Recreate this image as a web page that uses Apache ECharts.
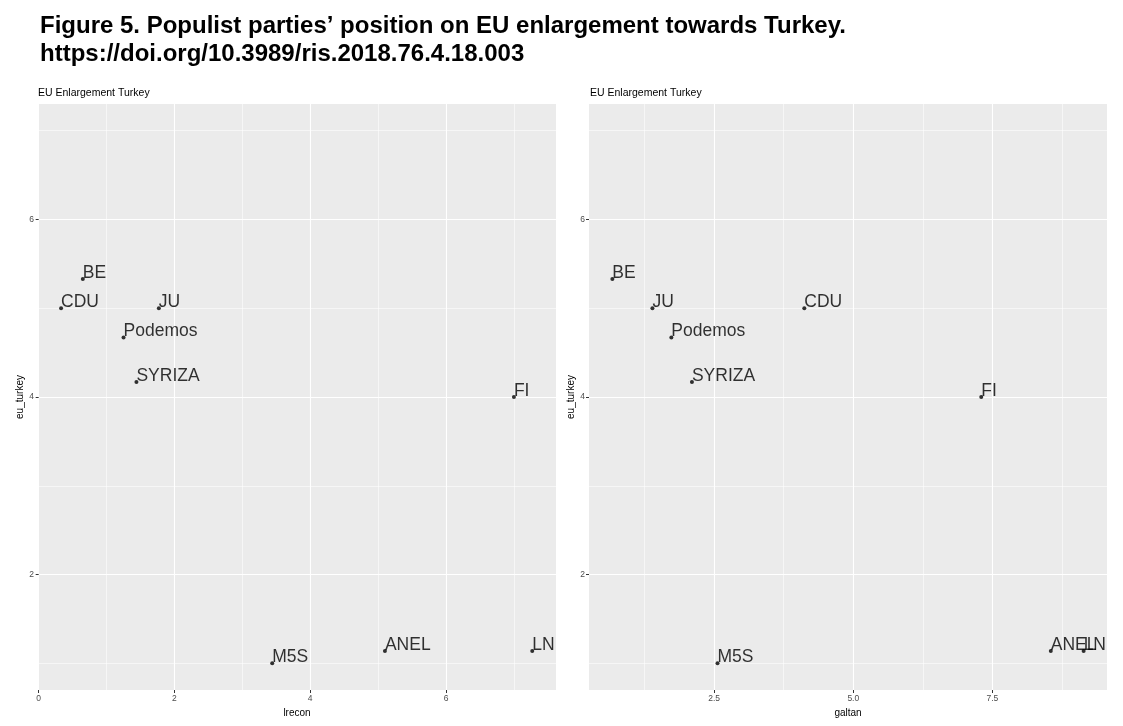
<!DOCTYPE html>
<html lang="en">
<head>
    <meta charset="UTF-8">
    <title>EU Enlargement Turkey</title>
    <script src="https://cdn.jsdelivr.net/npm/echarts@6/dist/echarts.min.js"></script>
    <style type="text/css">
        html, body {
            margin: 0;
            width: 100%;
            height: 100%;
            background-color: #ffffff;
        }
        #chart {
            width: 1123px;
            height: 726px;
        }
    </style>
</head>
<body>
    <div id="chart"></div>
    <script type="text/javascript">
        // data
        var parties = ['BE', 'CDU', 'JU', 'Podemos', 'SYRIZA', 'FI', 'M5S', 'ANEL', 'LN'];
        var euTurkey = [5.33, 5.0, 5.0, 4.67, 4.17, 4.0, 1.0, 1.14, 1.14];
        var lrecon = [0.65, 0.33, 1.77, 1.25, 1.44, 7.0, 3.44, 5.10, 7.27];
        var galtan = [0.67, 4.12, 1.39, 1.73, 2.10, 7.30, 2.56, 8.55, 9.14];

        // tick labels / grid breaks
        var yTicks = [2, 4, 6];
        var yMinor = [1, 3, 5, 7];
        var lreconTicks = [0, 2, 4, 6];
        var lreconMinor = [1, 3, 5, 7];
        var galtanTicks = [2.5, 5, 7.5];
        var galtanMinor = [1.25, 3.75, 6.25, 8.75];

        var font = 'Liberation Sans, Arial, sans-serif';

        function buildPoints(xs) {
            var pts = [];
            for (var i = 0; i < parties.length; i++) {
                pts.push([xs[i], euTurkey[i], parties[i]]);
            }
            return pts;
        }

        function majorAxis(grid, ticks, min, max, extra) {
            var ax = {
                type: 'value',
                gridIndex: grid,
                min: min,
                max: max,
                axisLine: { show: false },
                axisTick: {
                    show: true,
                    length: 3,
                    customValues: ticks,
                    lineStyle: { color: '#333333', width: 1 }
                },
                axisLabel: {
                    customValues: ticks,
                    color: '#4d4d4d',
                    fontSize: 8.5,
                    fontFamily: font,
                    margin: 4
                },
                splitLine: { show: true, lineStyle: { color: '#ffffff', width: 1.1 } },
                nameTextStyle: { color: '#000000', fontSize: 10, fontFamily: font }
            };
            for (var k in extra) { ax[k] = extra[k]; }
            return ax;
        }

        function minorAxis(grid, ticks, min, max) {
            return {
                type: 'value',
                gridIndex: grid,
                min: min,
                max: max,
                axisLine: { show: false },
                axisTick: { show: false, customValues: ticks },
                axisLabel: { show: false, customValues: ticks },
                splitLine: { show: true, lineStyle: { color: '#ffffff', width: 0.55 } }
            };
        }

        var chart = echarts.init(document.getElementById('chart'), null, { renderer: 'canvas' });

        var labelOpt = {
            show: true,
            formatter: function (p) { return p.value[2]; },
            position: [2, 5],
            align: 'left',
            verticalAlign: 'bottom',
            color: '#000000',
            fontSize: 17.5,
            fontFamily: font
        };

        var option = {
            backgroundColor: '#ffffff',
            animation: false,
            title: [
                {
                    text: 'Figure 5. Populist parties\u2019 position on EU enlargement towards Turkey.\nhttps://doi.org/10.3989/ris.2018.76.4.18.003',
                    left: 35,
                    top: 7,
                    textStyle: {
                        fontFamily: font,
                        fontWeight: 'bold',
                        fontSize: 24,
                        lineHeight: 28,
                        color: '#000000'
                    }
                },
                {
                    text: 'EU Enlargement Turkey',
                    left: 33,
                    top: 83,
                    textStyle: { fontFamily: font, fontWeight: 'normal', fontSize: 10.5, color: '#000000' }
                },
                {
                    text: 'EU Enlargement Turkey',
                    left: 585,
                    top: 83,
                    textStyle: { fontFamily: font, fontWeight: 'normal', fontSize: 10.5, color: '#000000' }
                }
            ],
            grid: [
                { left: 38, top: 104, width: 518, height: 586, backgroundColor: '#ebebeb', show: true, borderWidth: 0 },
                { left: 589, top: 104, width: 518, height: 586, backgroundColor: '#ebebeb', show: true, borderWidth: 0 }
            ],
            xAxis: [
                majorAxis(0, lreconTicks, -0.01, 7.62, { name: 'lrecon', nameLocation: 'middle', nameGap: 18 }),
                majorAxis(1, galtanTicks, 0.25, 9.56, {
                    name: 'galtan', nameLocation: 'middle', nameGap: 16,
                    axisLabel: {
                        customValues: galtanTicks,
                        color: '#4d4d4d',
                        fontSize: 8.5,
                        fontFamily: font,
                        margin: 4,
                        formatter: function (v) { return v.toFixed(1); }
                    }
                }),
                minorAxis(0, lreconMinor, -0.01, 7.62),
                minorAxis(1, galtanMinor, 0.25, 9.56)
            ],
            yAxis: [
                majorAxis(0, yTicks, 0.7, 7.3, { name: 'eu_turkey', nameLocation: 'middle', nameGap: 12, nameRotate: 90 }),
                majorAxis(1, yTicks, 0.7, 7.3, { name: 'eu_turkey', nameLocation: 'middle', nameGap: 12, nameRotate: 90 }),
                minorAxis(0, yMinor, 0.7, 7.3),
                minorAxis(1, yMinor, 0.7, 7.3)
            ],
            series: [
                {
                    type: 'scatter',
                    xAxisIndex: 0,
                    yAxisIndex: 0,
                    symbolSize: 4,
                    itemStyle: { color: '#000000' },
                    label: labelOpt,
                    data: buildPoints(lrecon)
                },
                {
                    type: 'scatter',
                    xAxisIndex: 1,
                    yAxisIndex: 1,
                    symbolSize: 4,
                    itemStyle: { color: '#000000' },
                    label: labelOpt,
                    data: buildPoints(galtan)
                }
            ]
        };

        chart.setOption(option);
    </script>
</body>
</html>
